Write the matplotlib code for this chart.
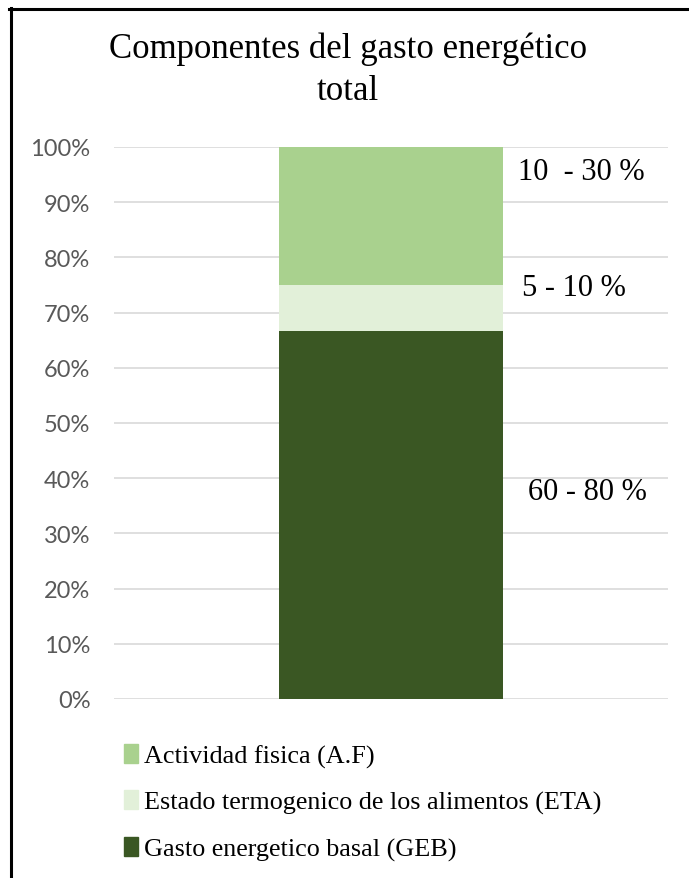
import matplotlib.pyplot as plt
from matplotlib.lines import Line2D
from matplotlib.patches import Patch
from matplotlib.ticker import PercentFormatter

# datos (valores máximos de cada componente; el gráfico es 100% apilado)
componentes = ['Gasto energetico basal (GEB)',
               'Estado termogenico de los alimentos (ETA)',
               'Actividad fisica (A.F)']
valores = [80, 10, 30]
colores = ['#3A5723', '#E2F0D9', '#A9D18E']
rangos = ['60 - 80 %', '5 - 10 %', '10  - 30 %']
rangos_x = [0.247, 0.236, 0.229]   # posición horizontal de cada texto
rangos_y = [37.5, 74.6, 95.5]      # posición vertical de cada texto (%)
ticks = [0, 10, 20, 30, 40, 50, 60, 70, 80, 90, 100]

total = sum(valores)
porcentajes = [v / total * 100 for v in valores]

fig = plt.figure(figsize=(6.89, 8.79), dpi=100)
ax = fig.add_axes([114 / 689, 179 / 879, 554 / 689, 552 / 879])

base = 0
for nombre, p, c in zip(componentes, porcentajes, colores):
    ax.bar(0, p, width=0.404, bottom=base, color=c, zorder=3)
    base += p

for texto, x, y in zip(rangos, rangos_x, rangos_y):
    ax.text(x, y, texto, ha='left', va='center', fontsize=22,
            family='Liberation Serif', color='black')

ax.set_xlim(-0.5, 0.5)
ax.set_ylim(0, 100)
ax.set_yticks(ticks)
ax.yaxis.set_major_formatter(PercentFormatter(decimals=0))
ax.set_xticks([])
ax.grid(axis='y', color='#D9D9D9', linewidth=1.2, zorder=0)
ax.tick_params(axis='y', length=0, pad=17, labelsize=17, labelcolor='#595959')
for lab in ax.get_yticklabels():
    lab.set_family('Lato')
for s in ax.spines.values():
    s.set_visible(False)

fig.text(0.505, 1 - 33 / 879, 'Componentes del gasto energético\ntotal',
         ha='center', va='top', fontsize=25, family='Liberation Serif',
         linespacing=1.35)

# leyenda en orden inverso al apilado
handles = [Patch(color=c) for c in colores[::-1]]
fig.legend(handles, componentes[::-1], loc='upper left',
           bbox_to_anchor=(100 / 689, 1 - 721 / 879), frameon=False,
           prop={'family': 'Liberation Serif', 'size': 18.8},
           handlelength=0.55, handleheight=0.75, handletextpad=0.25,
           labelspacing=0.86)

# marco (solo arriba e izquierda)
fig.add_artist(Line2D([11 / 689, 11 / 689], [0, 1 - 9 / 879],
                      transform=fig.transFigure, color='black', linewidth=2.2))
fig.add_artist(Line2D([9 / 689, 1], [1 - 10 / 879, 1 - 10 / 879],
                      transform=fig.transFigure, color='black', linewidth=2.2))

fig.savefig('out.png', dpi=100)
